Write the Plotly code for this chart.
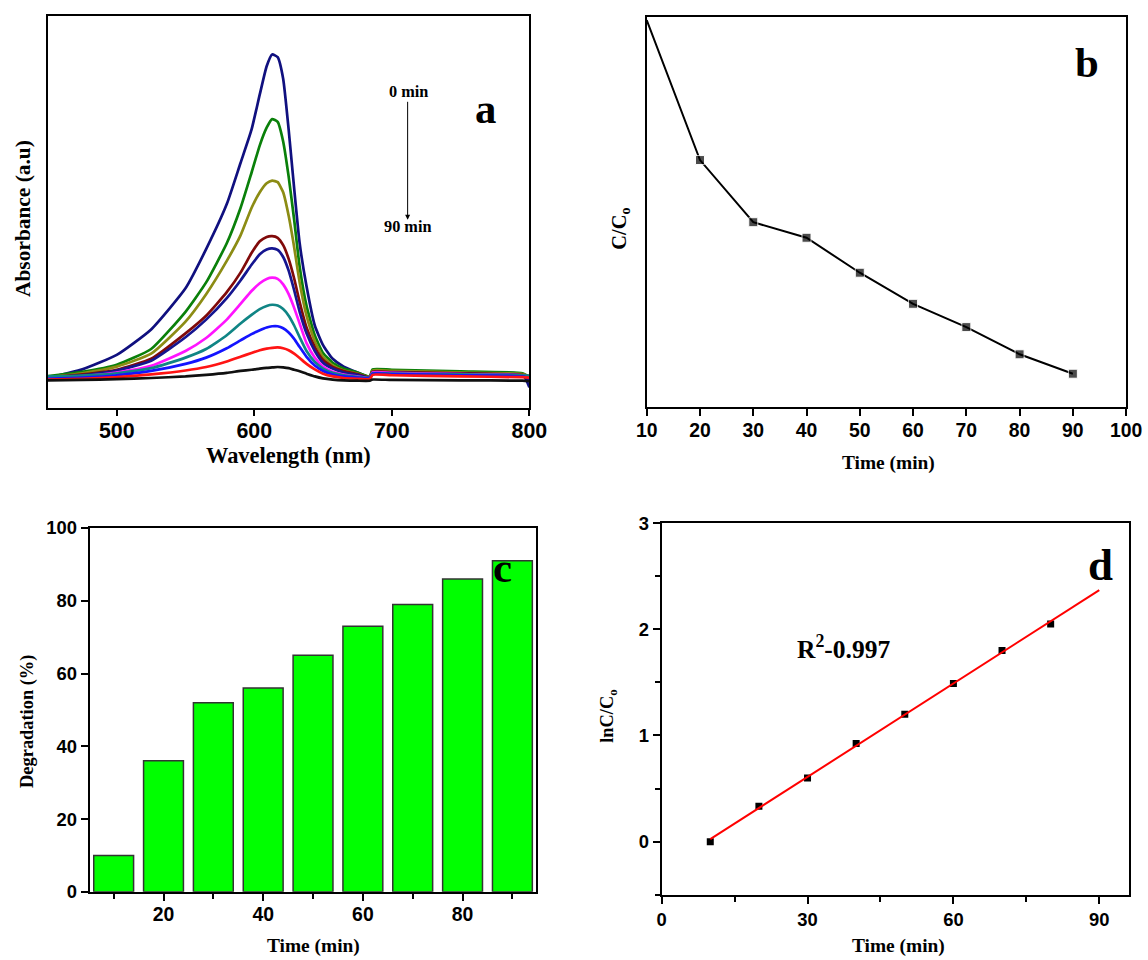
import numpy as np
import plotly.graph_objects as go

# ---------------- data ----------------
# Panel a: UV-vis spectra (absorbance, arbitrary units)
wavelength = [450, 475, 500, 525, 550, 565, 580, 590, 598, 604, 609, 613, 617, 621, 625,
              629, 633, 638, 644, 650, 657, 665, 675, 684, 686, 700, 750, 795, 800]
spec_names = ["0 min", "10 min", "20 min", "30 min", "40 min", "50 min", "60 min",
              "70 min", "80 min", "90 min"]
spec_colors = ["#10107f", "#0a800a", "#8c8c14", "#800a0a", "#151590", "#ff14ff",
               "#108585", "#1414ff", "#ff1414", "#101010"]
spec_0 = [0.076, 0.098, 0.135, 0.200, 0.305, 0.405, 0.520, 0.625, 0.710, 0.800, 0.872, 0.902,
          0.895, 0.840, 0.710, 0.560, 0.420, 0.310, 0.210, 0.160, 0.125, 0.105, 0.090, 0.078,
          0.095, 0.094, 0.090, 0.085, 0.052]
spec_1 = [0.081, 0.092, 0.110, 0.150, 0.245, 0.320, 0.420, 0.510, 0.600, 0.670, 0.715, 0.737,
          0.730, 0.680, 0.590, 0.480, 0.360, 0.260, 0.185, 0.140, 0.115, 0.100, 0.090, 0.080,
          0.098, 0.097, 0.093, 0.088, 0.078]
spec_2 = [0.078, 0.088, 0.105, 0.138, 0.220, 0.290, 0.375, 0.440, 0.510, 0.550, 0.573, 0.580,
          0.576, 0.550, 0.490, 0.410, 0.320, 0.235, 0.170, 0.130, 0.108, 0.095, 0.087, 0.078,
          0.095, 0.094, 0.090, 0.086, 0.080]
spec_3 = [0.077, 0.085, 0.097, 0.125, 0.190, 0.235, 0.295, 0.345, 0.395, 0.425, 0.436, 0.438,
          0.434, 0.415, 0.380, 0.330, 0.270, 0.205, 0.155, 0.122, 0.104, 0.094, 0.086, 0.078,
          0.092, 0.091, 0.088, 0.084, 0.080]
spec_4 = [0.077, 0.083, 0.095, 0.120, 0.180, 0.225, 0.280, 0.325, 0.365, 0.392, 0.404, 0.407,
          0.403, 0.385, 0.350, 0.300, 0.245, 0.190, 0.145, 0.115, 0.100, 0.090, 0.084, 0.077,
          0.090, 0.089, 0.086, 0.082, 0.070]
spec_5 = [0.078, 0.081, 0.090, 0.107, 0.145, 0.178, 0.225, 0.265, 0.298, 0.318, 0.329, 0.332,
          0.329, 0.315, 0.290, 0.255, 0.215, 0.165, 0.128, 0.105, 0.092, 0.085, 0.080, 0.076,
          0.090, 0.089, 0.086, 0.083, 0.080]
spec_6 = [0.080, 0.082, 0.088, 0.101, 0.128, 0.150, 0.185, 0.215, 0.237, 0.252, 0.260, 0.263,
          0.261, 0.252, 0.235, 0.210, 0.180, 0.145, 0.117, 0.100, 0.089, 0.083, 0.079, 0.076,
          0.088, 0.087, 0.085, 0.083, 0.082]
spec_7 = [0.074, 0.077, 0.083, 0.094, 0.112, 0.128, 0.152, 0.172, 0.188, 0.198, 0.205, 0.208,
          0.208, 0.203, 0.192, 0.176, 0.155, 0.130, 0.108, 0.094, 0.085, 0.080, 0.077, 0.075,
          0.087, 0.086, 0.083, 0.080, 0.075]
spec_8 = [0.072, 0.074, 0.078, 0.085, 0.095, 0.104, 0.118, 0.130, 0.140, 0.147, 0.151, 0.153,
          0.154, 0.152, 0.147, 0.138, 0.127, 0.112, 0.098, 0.087, 0.080, 0.076, 0.074, 0.073,
          0.084, 0.083, 0.080, 0.078, 0.077]
spec_9 = [0.070, 0.071, 0.073, 0.076, 0.080, 0.084, 0.089, 0.094, 0.097, 0.100, 0.102, 0.103,
          0.104, 0.103, 0.101, 0.097, 0.093, 0.087, 0.080, 0.075, 0.072, 0.070, 0.069, 0.069,
          0.072, 0.071, 0.070, 0.069, 0.068]
spectra = [spec_0, spec_1, spec_2, spec_3, spec_4, spec_5, spec_6, spec_7, spec_8, spec_9]

# Panel b: C/Co vs time
time_b = [10, 20, 30, 40, 50, 60, 70, 80, 90]
c_ratio = [1.00, 0.64, 0.48, 0.44, 0.35, 0.27, 0.21, 0.14, 0.09]

# Panel c: degradation (%)
time_c = [10, 20, 30, 40, 50, 60, 70, 80, 90]
degradation = [10, 36, 52, 56, 65, 73, 79, 86, 91]

# Panel d: ln(C/Co) kinetics
time_d = [10, 20, 30, 40, 50, 60, 70, 80]
ln_c = [0.00, 0.334, 0.60, 0.925, 1.20, 1.49, 1.80, 2.05]

# ---------------- figure ----------------
W, H = 1148, 960
# the photographed page appears with an 8px border and slightly shrunk;
# layout positions below are given in target-picture pixels and mapped back
SX, SY, BORDER = 0.98, 0.984, 8
FS = 1.02  # font compensation for the shrink

def PX(X):
    return min((X / SX - BORDER) / W, 0.999)
def PY(Y):
    return max(1 - (Y / SY - BORDER) / H, 0.001)

SANS = "Liberation Sans"
SERIF = "Liberation Serif"

fig = go.Figure()

# panel a
for name, col, vals in zip(spec_names, spec_colors, spectra):
    fig.add_trace(go.Scatter(x=wavelength, y=vals, mode="lines", name=name,
                             line=dict(color=col, width=2.7, shape="spline", smoothing=0.5),
                             xaxis="x", yaxis="y", showlegend=False))

# panel b
fig.add_trace(go.Scatter(x=time_b, y=c_ratio, mode="lines+markers",
                         line=dict(color="black", width=2),
                         marker=dict(symbol="square", size=[0] + [9] * (len(time_b) - 1),
                                     color="black"),
                         xaxis="x2", yaxis="y2", showlegend=False))

# panel c
fig.add_trace(go.Bar(x=time_c, y=degradation, width=8,
                     marker=dict(color="#00ff00", line=dict(color="#333333", width=1.5)),
                     xaxis="x3", yaxis="y3", showlegend=False))

# panel d
slope, intercept = np.polyfit(time_d, ln_c, 1)
fit_x = [10, 90]
fit_y = [slope * t + intercept for t in fit_x]
fig.add_trace(go.Scatter(x=time_d, y=ln_c, mode="markers",
                         marker=dict(symbol="square", size=7, color="black"),
                         xaxis="x4", yaxis="y4", showlegend=False))
fig.add_trace(go.Scatter(x=fit_x, y=fit_y, mode="lines",
                         line=dict(color="#ff0000", width=2),
                         xaxis="x4", yaxis="y4", showlegend=False))

def tf(size):
    return dict(family=SANS, size=round(size * FS, 1), color="black", weight="bold")

def ax_style(**kw):
    d = dict(showline=True, linecolor="black", linewidth=2, mirror=True,
             ticks="outside", ticklen=7, tickwidth=2, tickcolor="black",
             showgrid=False, zeroline=False, tickfont=tf(19))
    d.update(kw)
    return d

# panel d x range: keep 0 and 90 where the picture has them, frame cut at the page edge
d_x0, d_x90, d_right = PX(662), PX(1102), PX(1136)
d_xmax = 90 * (d_right - d_x0) / (d_x90 - d_x0)

fig.update_layout(
    width=W, height=H, margin=dict(l=0, r=0, t=0, b=0),
    paper_bgcolor="white", plot_bgcolor="white",
    xaxis=ax_style(domain=[PX(45), PX(529)], range=[450, 800], tickvals=[500, 600, 700, 800],
                   anchor="y", ticklen=6, ticklabelstandoff=-3, tickfont=tf(21)),
    yaxis=ax_style(domain=[PY(407), PY(13)], range=[0, 1], ticks="", showticklabels=False,
                   anchor="x"),
    xaxis2=ax_style(domain=[PX(647), PX(1129)], range=[10, 100], dtick=10, tick0=10,
                    anchor="y2", ticklabeloverflow="allow", ticklabelstandoff=-2),
    yaxis2=ax_style(domain=[PY(406), PY(14)], range=[0.005, 1.008], ticks="",
                    showticklabels=False, anchor="x2"),
    xaxis3=ax_style(domain=[PX(87), PX(536)], range=[5.2, 94.8], tickvals=[20, 40, 60, 80],
                    minor=dict(tickvals=[10, 30, 50, 70, 90], ticks="outside", ticklen=5,
                               tickwidth=2, tickcolor="black"),
                    anchor="y3", ticklabelstandoff=-3),
    yaxis3=ax_style(domain=[PY(894), PY(528)], range=[0, 100], tickvals=[0, 20, 40, 60, 80, 100],
                    anchor="x3", tickfont=tf(18)),
    xaxis4=ax_style(domain=[d_x0, d_right], range=[0, d_xmax], tickvals=[0, 30, 60, 90],
                    minor=dict(tickvals=[15, 45, 75], ticks="outside", ticklen=5,
                               tickwidth=2, tickcolor="black"),
                    anchor="y4", tickfont=tf(18)),
    yaxis4=ax_style(domain=[PY(897), PY(523)], range=[-0.5, 3], tickvals=[0, 1, 2, 3],
                    minor=dict(tickvals=[-0.5, 0.5, 1.5, 2.5], ticks="outside", ticklen=5,
                               tickwidth=2, tickcolor="black"),
                    anchor="x4", tickfont=tf(18)),
)

def label(text, X, Y, size, angle=0, family=SERIF):
    fig.add_annotation(text=text, x=PX(X), y=PY(Y), xref="paper", yref="paper",
                       showarrow=False, textangle=angle, xanchor="center", yanchor="middle",
                       font=dict(family=family, size=round(size * FS, 1), color="black",
                                 weight="bold"))

# axis titles
label("Wavelength (nm)", 287, 455, 22)
label("Absorbance (a.u)", 20, 217, 21, angle=-90)
label("Time (min)", 890, 463, 19)
label("C/C<sub>o</sub>", 621, 227, 20, angle=-90)
label("Time (min)", 312, 948, 19)
label("Degradation (%)", 25, 723, 18, angle=-90)
label("Time (min)", 900, 948, 19)
label("lnC/C<sub>o</sub>", 609, 717, 18, angle=-90)

# panel letters
label("a", 485, 106, 42)
label("b", 1090, 60, 42)
label("c", 502, 568, 42)
label("d", 1103, 565, 44)

# panel a time arrow and labels
label("0 min", 407, 89, 16)
label("90 min", 407, 225, 16)
fig.add_annotation(x=711.5, y=0.48, xref="x", yref="y", ax=711.5, ay=0.785,
                   axref="x", ayref="y", text="", showarrow=True, arrowhead=2,
                   arrowsize=1, arrowwidth=1, arrowcolor="black")

# panel d R^2 text
label("R<sup>2</sup>-0.997", 845, 648, 25)

fig.write_html("out.html", config={"displayModeBar": False},
               post_script="document.body.style.margin='0';document.body.style.overflow='hidden';")
